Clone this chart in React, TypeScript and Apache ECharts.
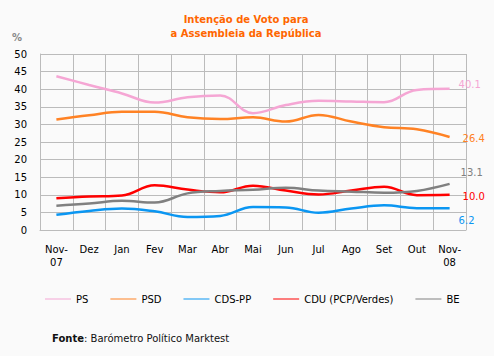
import React, { useEffect, useRef } from "react";
import * as echarts from "echarts";

const months = ["Nov-\n07", "Dez", "Jan", "Fev", "Mar", "Abr", "Mai", "Jun", "Jul", "Ago", "Set", "Out", "Nov-\n08"];
const PS = [43.7, 41.2, 38.8, 36.2, 37.7, 38.2, 33.2, 35.5, 36.7, 36.5, 36.3, 39.8, 40.1];
const PSD = [31.4, 32.6, 33.6, 33.6, 32.0, 31.5, 32.0, 30.8, 32.7, 30.8, 29.2, 28.6, 26.4];
const CDS = [4.3, 5.4, 6.1, 5.3, 3.7, 4.0, 6.5, 6.4, 4.9, 6.1, 7.0, 6.2, 6.2];
const CDU = [9.0, 9.5, 9.8, 12.7, 11.5, 10.7, 12.6, 11.2, 10.1, 11.2, 12.3, 9.9, 10.0];
const BE = [6.9, 7.5, 8.3, 7.8, 10.4, 11.1, 11.4, 12.0, 11.2, 10.9, 10.6, 11.1, 13.1];
const yTicks = [0, 5, 10, 15, 20, 25, 30, 35, 40, 45, 50];

const FONT = "DejaVu Sans";

const seriesDefs = [
  { name: "PS", data: PS, color: "#F5A6D4", offset: [4, -4] },
  { name: "PSD", data: PSD, color: "#FF8224", offset: [8, 1] },
  { name: "CDS-PP", data: CDS, color: "#0A96F2", offset: [4, 12] },
  { name: "CDU (PCP/Verdes)", data: CDU, color: "#FF0000", offset: [8, 2] },
  { name: "BE", data: BE, color: "#808080", offset: [6, -11] },
];

export default function App() {
  const ref = useRef<HTMLDivElement>(null);
  useEffect(() => {
    if (!ref.current) return;
    const chart = echarts.init(ref.current, null, { renderer: "svg" });
    chart.setOption({
      animation: false,
      backgroundColor: "#FAFAFA",
      textStyle: { fontFamily: FONT },
      title: {
        text: "Intenção de Voto para\na Assembleia da República",
        left: 241,
        textAlign: "center",
        top: 7,
        textStyle: { color: "#FF6600", fontSize: 10, fontWeight: "bold", lineHeight: 14, fontFamily: FONT },
      },
      legend: {
        left: 45,
        top: 294,
        padding: 0,
        itemGap: 22,
        itemWidth: 26,
        itemHeight: 1,
        icon: "rect",
        textStyle: { color: "#000", fontSize: 10, fontFamily: FONT },
        data: seriesDefs.map((s) => s.name),
      },
      grid: { left: 40, right: 28, top: 54, bottom: 126 },
      xAxis: {
        type: "category",
        data: months,
        boundaryGap: true,
        axisTick: { show: false },
        axisLine: { lineStyle: { color: "#BBBBBB", width: 1 } },
        splitLine: { show: true, interval: 0, lineStyle: { color: "#BBBBBB", width: 1 } },
        axisLabel: { interval: 0, color: "#000", fontSize: 10, margin: 13, lineHeight: 13, fontFamily: FONT },
      },
      yAxis: {
        type: "value",
        min: yTicks[0],
        max: yTicks[yTicks.length - 1],
        interval: 5,
        axisLine: { show: true, lineStyle: { color: "#BBBBBB", width: 1 } },
        axisTick: { show: false },
        splitLine: { show: true, lineStyle: { color: "#BBBBBB", width: 1 } },
        axisLabel: { color: "#000", fontSize: 10, margin: 13, fontFamily: FONT },
      },
      graphic: [
        {
          type: "text",
          left: 12,
          top: 32,
          style: { text: "%", fill: "#888888", font: `bold 10px "${FONT}"` },
        },
        {
          type: "text",
          left: 52,
          top: 333,
          style: {
            text: "{b|Fonte}: Barómetro Político Marktest",
            fill: "#111",
            font: `10px "${FONT}"`,
            rich: { b: { fontWeight: "bold", fontSize: 10, fontFamily: FONT, fill: "#111" } },
          } as any,
        },
      ],
      series: seriesDefs.map((s) => ({
        name: s.name,
        type: "line",
        smooth: 0.4,
        symbol: "none",
        color: s.color,
        lineStyle: { width: 2.5, color: s.color },
        endLabel: {
          show: true,
          distance: 5,
          offset: s.offset,
          formatter: (p: any) => Number(p.value).toFixed(1),
          color: s.color,
          fontSize: 10,
          fontFamily: FONT,
        },
        data: s.data,
      })),
    });
    return () => chart.dispose();
  }, []);
  return <div ref={ref} style={{ position: "absolute", left: 0, top: 0, width: 494, height: 356 }} />;
}
